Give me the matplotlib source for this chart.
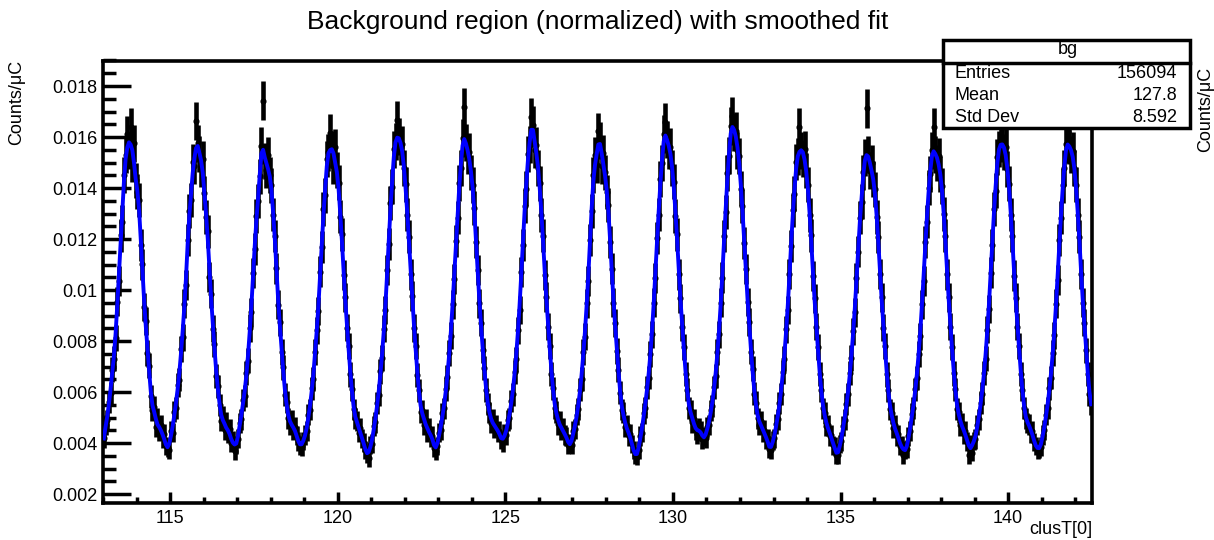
import numpy as np
import matplotlib
matplotlib.use("Agg")
import matplotlib.pyplot as plt
from matplotlib.patches import Rectangle
from matplotlib.lines import Line2D
from matplotlib.ticker import MultipleLocator, FuncFormatter

plt.rcParams['font.family'] = ['Liberation Sans', 'DejaVu Sans']

# histogram "bg" : clusT[0], bins of 0.05 from 113 to 142.5
x_lo, x_hi = 113.0, 142.5
entries = 156094
mean_txt = "127.8"
std_txt = "8.592"
title = "Background region (normalized) with smoothed fit"

# bin contents in counts/uC (x 1e-5), one row per 2 ns bunch
bg_e5 = [
    418, 472, 489, 561, 596, 688, 731, 812, 955, 1036, 1214, 1268, 1452, 1530, 1610, 1548, 1640, 1495, 1575,
    1430, 1386, 1352, 1178, 1101, 934, 880, 752, 703, 583, 528, 541, 462, 496, 447, 471, 418, 436, 389,
    382, 371, 446, 441, 523, 538, 627, 649, 768, 815, 947, 1021, 1195, 1310, 1354, 1502, 1488, 1662, 1575, 1534,
    1476, 1512, 1380, 1287, 1231, 1052, 986, 848, 789, 664, 622, 551, 487, 503, 452, 482, 438, 455, 401, 412,
    368, 392, 417, 479, 493, 570, 584, 676, 722, 851, 912, 1067, 1162, 1291, 1348, 1446, 1565, 1742, 1505, 1470,
    1528, 1451, 1410, 1296, 1212, 1085, 942, 873, 758, 697, 590, 562, 498, 470, 488, 451, 462, 429, 407, 391,
    387, 408, 431, 447, 512, 531, 615, 652, 757, 842, 918, 1072, 1169, 1318, 1371, 1514, 1540, 1615, 1552, 1488,
    1560, 1472, 1421, 1288, 1219, 1058, 971, 852, 781, 669, 611, 532, 498, 486, 441, 459, 418, 402, 373, 356,
    341, 392, 398, 466, 481, 558, 589, 681, 733, 849, 921, 1078, 1181, 1342, 1405, 1552, 1581, 1668, 1603, 1562,
    1571, 1478, 1414, 1296, 1209, 1061, 977, 851, 779, 668, 607, 521, 528, 472, 491, 443, 459, 424, 428, 381,
    368, 389, 441, 452, 517, 536, 612, 658, 752, 821, 944, 1043, 1192, 1284, 1420, 1478, 1596, 1718, 1580, 1527,
    1543, 1461, 1412, 1322, 1188, 1079, 948, 872, 763, 694, 608, 553, 521, 478, 492, 458, 470, 441, 447, 412,
    403, 436, 432, 489, 498, 566, 591, 679, 728, 843, 922, 1070, 1176, 1329, 1398, 1534, 1569, 1677, 1648, 1551,
    1568, 1480, 1419, 1294, 1213, 1058, 973, 857, 781, 672, 614, 537, 522, 473, 484, 449, 458, 431, 427, 393,
    398, 393, 447, 455, 512, 534, 609, 651, 758, 817, 948, 1036, 1197, 1311, 1452, 1528, 1490, 1622, 1585, 1487,
    1536, 1461, 1384, 1332, 1189, 1083, 951, 871, 762, 688, 597, 531, 519, 462, 470, 428, 437, 396, 371, 352,
    347, 372, 428, 441, 516, 539, 618, 657, 749, 826, 951, 1047, 1204, 1296, 1436, 1498, 1611, 1659, 1590, 1548,
    1562, 1477, 1425, 1291, 1218, 1061, 967, 854, 778, 671, 609, 538, 527, 481, 493, 452, 436, 458, 447, 414,
    427, 418, 463, 471, 528, 547, 619, 662, 758, 827, 951, 1049, 1212, 1306, 1459, 1527, 1644, 1682, 1617, 1625,
    1548, 1526, 1397, 1328, 1186, 1082, 953, 874, 759, 692, 593, 559, 497, 472, 486, 443, 452, 414, 418, 376,
    372, 411, 418, 474, 493, 557, 592, 678, 731, 846, 921, 1063, 1171, 1312, 1378, 1503, 1524, 1641, 1548, 1516,
    1552, 1469, 1413, 1295, 1214, 1056, 968, 857, 776, 671, 608, 536, 518, 466, 469, 428, 433, 391, 389, 353,
    352, 396, 407, 468, 491, 553, 591, 674, 733, 838, 912, 1047, 1151, 1284, 1347, 1461, 1520, 1712, 1532, 1468,
    1497, 1436, 1395, 1286, 1208, 1062, 971, 853, 781, 669, 607, 532, 518, 461, 470, 426, 434, 388, 391, 352,
    371, 376, 427, 446, 514, 537, 611, 656, 749, 818, 944, 1037, 1189, 1268, 1402, 1456, 1548, 1638, 1532, 1497,
    1524, 1455, 1408, 1297, 1213, 1061, 972, 856, 778, 673, 611, 533, 521, 469, 478, 436, 447, 405, 352, 397,
    363, 408, 416, 472, 493, 559, 593, 676, 731, 845, 926, 1068, 1176, 1319, 1390, 1522, 1553, 1667, 1575, 1541,
    1559, 1476, 1417, 1296, 1211, 1057, 969, 856, 779, 671, 609, 537, 498, 479, 473, 438, 446, 404, 389, 371,
    378, 386, 431, 452, 511, 538, 614, 657, 752, 823, 946, 1041, 1196, 1284, 1411, 1479, 1572, 1618, 1566, 1532,
    1547, 1478, 1413, 1296, 1209, 1062, 951, 872, 763, 671, 591, 552,
]

vals = np.array(bg_e5) * 1e-5
nbins = len(vals)
edges = np.linspace(x_lo, x_hi, nbins + 1)
centers = 0.5 * (edges[1:] + edges[:-1])
half_w = 0.5 * (x_hi - x_lo) / nbins

# counts/uC = N/Q -> Q from the entries, error = sqrt(N)/Q
inv_q = vals.sum() / entries
errs = np.sqrt(vals * inv_q)

# smoothing: running median of 3 then hanning (as TH1::Smooth roughly does)
med = vals.copy()
med[1:-1] = np.median(np.vstack([vals[:-2], vals[1:-1], vals[2:]]), axis=0)
smooth = med.copy()
smooth[1:-1] = 0.25 * med[:-2] + 0.5 * med[1:-1] + 0.25 * med[2:]

W, H = 1214, 540
fig = plt.figure(figsize=(W / 100, H / 100), dpi=100)
ax = fig.add_axes([103 / W, 1 - 503 / H, (1092 - 103) / W, (503 - 60.5) / H])

ax.errorbar(centers, vals, yerr=errs, xerr=half_w, fmt='o', ms=3.4, color='black',
            ecolor='black', elinewidth=3.3, capsize=0, zorder=2)
ax.plot(centers, smooth, color='#0000ff', lw=2.8, zorder=3)

ax.set_xlim(x_lo, x_hi)
ax.set_ylim(0.00165, 0.0190)

ax.xaxis.set_major_locator(MultipleLocator(5))
ax.xaxis.set_minor_locator(MultipleLocator(1))
ax.yaxis.set_major_locator(MultipleLocator(0.002))
ax.yaxis.set_minor_locator(MultipleLocator(0.0005))
ax.yaxis.set_major_formatter(FuncFormatter(lambda v, p: "%g" % round(v, 4)))
ax.tick_params(axis='both', which='both', direction='in', top=False, right=False,
               labelsize=13, width=2.5, color='black')
ax.tick_params(axis='y', which='major', length=20, pad=4)
ax.tick_params(axis='y', which='minor', length=9.5)
ax.tick_params(axis='x', which='major', length=8, pad=5)
ax.tick_params(axis='x', which='minor', length=4)
for s in ax.spines.values():
    s.set_linewidth(2.6)

# axis titles and title
fig.text(1092 / W, 1 - 530 / H, 'clusT[0]', ha='right', va='center', fontsize=13)
fig.text(17 / W, 1 - 60 / H, 'Counts/μC', rotation=90, ha='center', va='top', fontsize=13)
fig.text(1206 / W, 1 - 67 / H, 'Counts/μC', rotation=90, ha='center', va='top', fontsize=13)
fig.text(598 / W, 1 - 22 / H, title, ha='center', va='center', fontsize=19)

# stats box
box = Rectangle((943 / W, 1 - 128 / H), (1190 - 943) / W, (128 - 40) / H, transform=fig.transFigure,
                facecolor='white', edgecolor='black', lw=2.5, zorder=10)
fig.add_artist(box)
fig.add_artist(Line2D([943 / W, 1190 / W], [1 - 63 / H, 1 - 63 / H], transform=fig.transFigure,
                      color='black', lw=2.5, zorder=11))
fig.text(1068 / W, 1 - 50 / H, 'bg', ha='center', va='center', fontsize=13, zorder=12)
rows = [("Entries", str(entries)), ("Mean", mean_txt), ("Std Dev", std_txt)]
for i, (name, val) in enumerate(rows):
    yy = 1 - (74 + 22 * i) / H
    fig.text(955 / W, yy, name, ha='left', va='center', fontsize=13, zorder=12)
    fig.text(1177 / W, yy, val, ha='right', va='center', fontsize=13, zorder=12)

fig.savefig("out.png", dpi=100)
